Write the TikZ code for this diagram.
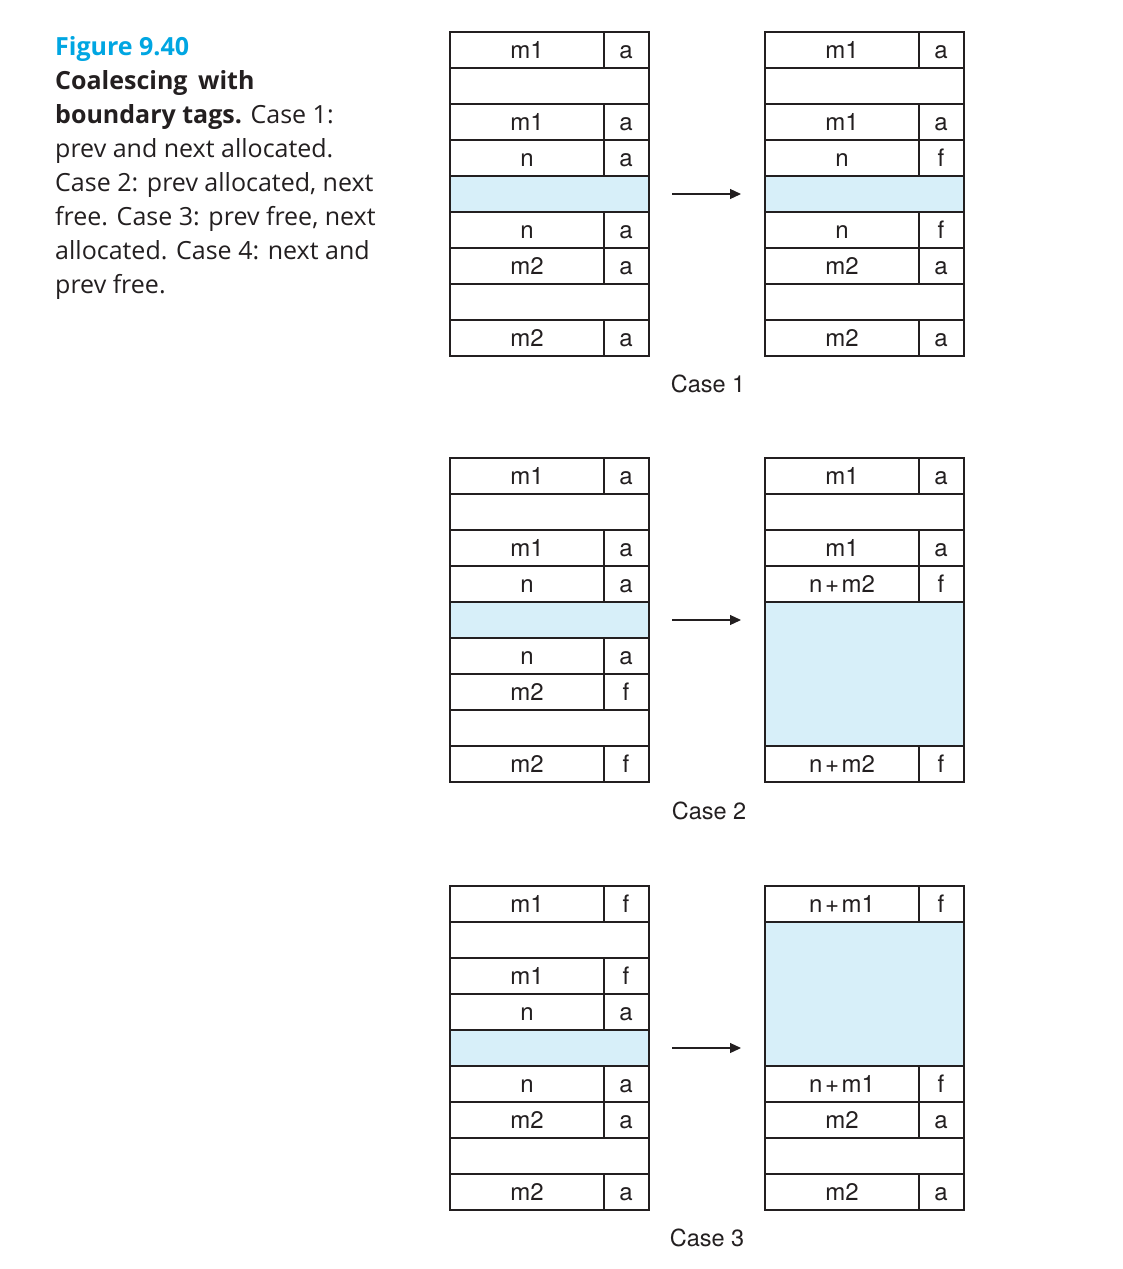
\documentclass[tikz,border=0pt]{standalone}
\usepackage{fontspec}
\setmainfont{TeX Gyre Heros}
\newfontfamily\capfont{Open Sans}
\usetikzlibrary{arrows.meta,calc}
\definecolor{freeblue}{RGB}{215,239,249}
\definecolor{figcyan}{RGB}{0,166,226}
\definecolor{ink}{RGB}{35,31,32}
\tikzset{
  lbl/.style={anchor=base,inner sep=0pt,font=\fontsize{24}{24}\selectfont,text=ink},
  caselbl/.style={anchor=base,inner sep=0pt,font=\fontsize{23.5}{23.5}\selectfont,text=ink},
  captxt/.style={anchor=base west,inner sep=0pt,font=\capfont\fontsize{25}{25}\selectfont,text=ink},
  thinline/.style={draw=ink,line width=1.1pt},
  thickline/.style={draw=ink,line width=2.8pt},
  freefill/.style={fill=freeblue},
  movearrow/.style={draw=ink,line width=1.2pt,-{Triangle[length=11pt,width=10pt]}},
}
\newcommand\pl{\kern2.5pt+\kern2.5pt}
% header row: name, x0, row top, label, tag
\newcommand\hdr[5]{%
  \draw[thinline] ($(#2+154,#3)$) -- ($(#2+154,#3+36)$);
  \node[lbl] (#1l) at (#2+77,#3+26) {#4};
  \node[lbl] (#1t) at (#2+176,#3+26) {#5};
}
\begin{document}
\begin{tikzpicture}[x=1pt,y=-1pt]
\useasboundingbox (0,0) rectangle (1123,1269);
\fill[white] (0,0) rectangle (1123,1269);

% caption
\node[captxt,text=figcyan,font=\capfont\bfseries\fontsize{25}{25}\selectfont] (fig) at (55,55) {Figure 9.40};
\node[captxt] (c1) at (55,89) {\textbf{Coalescing\, with}};
\node[captxt] (c2) at (55,123) {\textbf{boundary tags.} Case 1:};
\node[captxt] (c3) at (55,157) {prev and next allocated.};
\node[captxt] (c4) at (55,191) {Case 2: prev allocated, next};
\node[captxt] (c5) at (55,225) {free. Case 3: prev free, next};
\node[captxt] (c6) at (55,259) {allocated. Case 4: next and};
\node[captxt] (c7) at (55,293) {prev free.};

% ================= Case 1 =================
\fill[freefill] (450,176) rectangle (649,212);
\foreach \y in {68,104,176,212,284,320} \draw[thinline] (450,\y) -- (649,\y);
\hdr{aa0}{450}{32}{m1}{a}
\hdr{aa2}{450}{104}{m1}{a}
\hdr{aa3}{450}{140}{n}{a}
\hdr{aa5}{450}{212}{n}{a}
\hdr{aa6}{450}{248}{m2}{a}
\hdr{aa8}{450}{320}{m2}{a}
\draw[thickline] (450,140) -- (649,140) (450,248) -- (649,248);
\draw[thickline] (450,32) rectangle (649,356);
\fill[freefill] (765,176) rectangle (964,212);
\foreach \y in {68,104,176,212,284,320} \draw[thinline] (765,\y) -- (964,\y);
\hdr{ab0}{765}{32}{m1}{a}
\hdr{ab2}{765}{104}{m1}{a}
\hdr{ab3}{765}{140}{n}{f}
\hdr{ab5}{765}{212}{n}{f}
\hdr{ab6}{765}{248}{m2}{a}
\hdr{ab8}{765}{320}{m2}{a}
\draw[thickline] (765,140) -- (964,140) (765,248) -- (964,248);
\draw[thickline] (765,32) rectangle (964,356);
\coordinate (a1s) at (672,194);
\coordinate (a1e) at (741,194);
\draw[movearrow] (a1s) -- (a1e);
\node[caselbl] (case1) at (708,392) {Case 1};

% ================= Case 2 =================
\fill[freefill] (450,602) rectangle (649,638);
\foreach \y in {494,530,602,638,710,746} \draw[thinline] (450,\y) -- (649,\y);
\hdr{ba0}{450}{458}{m1}{a}
\hdr{ba2}{450}{530}{m1}{a}
\hdr{ba3}{450}{566}{n}{a}
\hdr{ba5}{450}{638}{n}{a}
\hdr{ba6}{450}{674}{m2}{f}
\hdr{ba8}{450}{746}{m2}{f}
\draw[thickline] (450,566) -- (649,566) (450,674) -- (649,674);
\draw[thickline] (450,458) rectangle (649,782);
\fill[freefill] (765,602) rectangle (964,746);
\foreach \y in {494,530,602,746} \draw[thinline] (765,\y) -- (964,\y);
\hdr{bb0}{765}{458}{m1}{a}
\hdr{bb2}{765}{530}{m1}{a}
\hdr{bb3}{765}{566}{n\pl m2}{f}
\hdr{bb8}{765}{746}{n\pl m2}{f}
\draw[thickline] (765,566) -- (964,566);
\draw[thickline] (765,458) rectangle (964,782);
\coordinate (a2s) at (672,620);
\coordinate (a2e) at (741,620);
\draw[movearrow] (a2s) -- (a2e);
\node[caselbl] (case2) at (709,819) {Case 2};

% ================= Case 3 =================
\fill[freefill] (450,1030) rectangle (649,1066);
\foreach \y in {922,958,1030,1066,1138,1174} \draw[thinline] (450,\y) -- (649,\y);
\hdr{ca0}{450}{886}{m1}{f}
\hdr{ca2}{450}{958}{m1}{f}
\hdr{ca3}{450}{994}{n}{a}
\hdr{ca5}{450}{1066}{n}{a}
\hdr{ca6}{450}{1102}{m2}{a}
\hdr{ca8}{450}{1174}{m2}{a}
\draw[thickline] (450,994) -- (649,994) (450,1102) -- (649,1102);
\draw[thickline] (450,886) rectangle (649,1210);
\fill[freefill] (765,922) rectangle (964,1066);
\foreach \y in {922,1066,1138,1174} \draw[thinline] (765,\y) -- (964,\y);
\hdr{cb0}{765}{886}{n\pl m1}{f}
\hdr{cb5}{765}{1066}{n\pl m1}{f}
\hdr{cb6}{765}{1102}{m2}{a}
\hdr{cb8}{765}{1174}{m2}{a}
\draw[thickline] (765,1102) -- (964,1102);
\draw[thickline] (765,886) rectangle (964,1210);
\coordinate (a3s) at (672,1048);
\coordinate (a3e) at (741,1048);
\draw[movearrow] (a3s) -- (a3e);
\node[caselbl] (case3) at (707,1246) {Case 3};
\end{tikzpicture}
\end{document}
